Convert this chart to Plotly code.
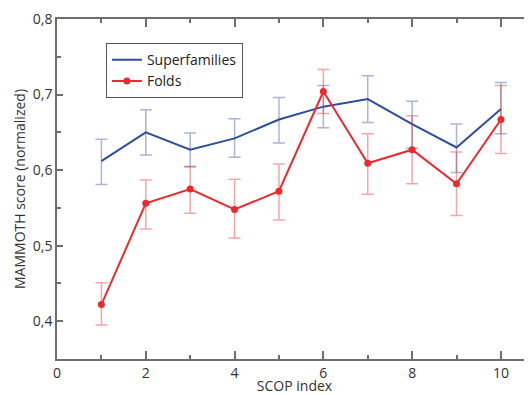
import plotly.graph_objects as go

scop_index = [1, 2, 3, 4, 5, 6, 7, 8, 9, 10]

superfamilies = [0.612, 0.650, 0.627, 0.642, 0.667, 0.684, 0.694, 0.661, 0.630, 0.681]
superfamilies_hi = [0.641, 0.680, 0.649, 0.668, 0.696, 0.712, 0.725, 0.691, 0.661, 0.716]
superfamilies_lo = [0.581, 0.620, 0.604, 0.617, 0.636, 0.656, 0.663, 0.629, 0.597, 0.648]

folds = [0.422, 0.556, 0.575, 0.548, 0.572, 0.704, 0.609, 0.627, 0.582, 0.667]
folds_hi = [0.451, 0.587, 0.605, 0.588, 0.608, 0.733, 0.648, 0.672, 0.624, 0.712]
folds_lo = [0.395, 0.522, 0.543, 0.510, 0.534, 0.675, 0.568, 0.582, 0.540, 0.622]

x_ticks = [0, 2, 4, 6, 8, 10]
y_ticks = [0.4, 0.5, 0.6, 0.7, 0.8]
y_tick_text = ["0,4", "0,5", "0,6", "0,7", "0,8"]

BLUE = "#2f4ea3"
RED = "#ec2a2d"
AXIS = "#6e6e6e"
FONT = "Open Sans"

fig = go.Figure()
fig.add_trace(go.Scatter(
    x=scop_index, y=superfamilies, name="Superfamilies", mode="lines",
    line=dict(color=BLUE, width=2),
    error_y=dict(type="data", symmetric=False,
                 array=[h - v for h, v in zip(superfamilies_hi, superfamilies)],
                 arrayminus=[v - l for v, l in zip(superfamilies, superfamilies_lo)],
                 color="rgba(47,78,163,0.42)", thickness=1.5, width=6),
))
fig.add_trace(go.Scatter(
    x=scop_index, y=folds, name="Folds", mode="lines+markers",
    line=dict(color=RED, width=2), marker=dict(color=RED, size=7),
    error_y=dict(type="data", symmetric=False,
                 array=[h - v for h, v in zip(folds_hi, folds)],
                 arrayminus=[v - l for v, l in zip(folds, folds_lo)],
                 color="rgba(236,42,45,0.42)", thickness=1.5, width=6),
))

# The page body has an 8px default margin, so the figure is laid out to compensate.
fig.update_layout(
    width=524, height=387,
    margin=dict(l=49, r=0, t=11, b=36),
    paper_bgcolor="white", plot_bgcolor="white",
    separators=",.",
    font=dict(family=FONT, size=13, color="#333333"),
    showlegend=True,
    legend=dict(x=0.103, y=0.929, xanchor="left", yanchor="top",
                bordercolor="#555555", borderwidth=1, bgcolor="white",
                font=dict(family=FONT, size=14, color="#222222"),
                tracegroupgap=0, itemwidth=30),
    xaxis=dict(range=[0, 10.7], tickvals=x_ticks, ticktext=[str(v) for v in x_ticks],
               automargin=False, tickfont=dict(size=14),
               showgrid=False, zeroline=False, showline=True, linecolor=AXIS, linewidth=1.5,
               mirror="ticks", ticks="inside", ticklen=8, tickcolor=AXIS, tickwidth=1.5,
               minor=dict(ticks="inside", ticklen=4, dtick=1, tick0=1, tickcolor=AXIS, tickwidth=1.5, showgrid=False),
               title=dict(text="SCOP index", font=dict(size=14), standoff=2)),
    yaxis=dict(range=[0.35, 0.8], tickvals=y_ticks, ticktext=y_tick_text,
               automargin=False, tickfont=dict(size=14),
               showgrid=False, zeroline=False, showline=True, linecolor=AXIS, linewidth=1.5,
               ticks="inside", ticklen=6, tickcolor=AXIS, tickwidth=1.5,
               minor=dict(ticks="inside", ticklen=4, dtick=0.05, tick0=0.35, tickcolor=AXIS, tickwidth=1.5, showgrid=False),
               title=dict(text="MAMMOTH score (normalized)", font=dict(size=14), standoff=4)),
)

fig.write_html("out.html")
